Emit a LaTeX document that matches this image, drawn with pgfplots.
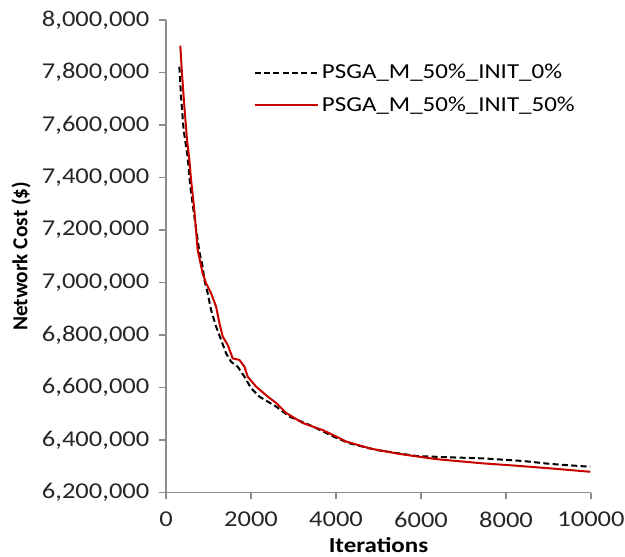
\documentclass[border=0pt]{standalone}
\usepackage{fontspec}
\setmainfont{Carlito}
\newfontfamily\wide[FakeStretch=1.17]{Carlito}
\usepackage{pgfplots}
\pgfplotsset{compat=1.18}

\definecolor{xlred}{RGB}{200,0,0}
\definecolor{axgrey}{RGB}{140,140,140}

\begin{document}
\begin{tikzpicture}
\begin{axis}[
  scale only axis, width=318.75pt, height=354.4pt,
  xmin=0, xmax=10000, ymin=6200000, ymax=8000000,
  xtick={0,2000,...,10000}, ytick={6200000,6400000,...,8000000},
  axis lines*=left, axis line style={axgrey, line width=0.8pt},
  tick style={axgrey, line width=0.8pt}, tick align=outside,
  major tick length=5pt,
  scaled x ticks=false, scaled y ticks=false,
  /pgf/number format/assume math mode=true,
  yticklabel style={xshift=-4pt, /pgf/number format/.cd, fixed, 1000 sep={,}},
  xticklabel style={yshift=-6pt, /pgf/number format/.cd, fixed, 1000 sep={}},
  tick label style={font=\wide\fontsize{17}{20}\selectfont, text=black!85},
  xlabel={\textbf{Iterations}}, ylabel={\textbf{Network Cost (\$)}},
  xlabel style={font=\wide\fontsize{16}{19}\selectfont, at={(rel axis cs:0.5,-0.111)}, anchor=center},
  ylabel style={font=\fontsize{16}{19}\selectfont, at={(rel axis cs:-0.341,0.5)}, anchor=center},
  legend style={draw=none, fill=none, at={(rel axis cs:0.196,0.918)}, anchor=north west,
    font=\wide\fontsize{16}{19}\selectfont, row sep=8pt},
  legend cell align=left,
  legend image code/.code={\draw[#1] (0cm,0cm) -- (1.68cm,0cm);},
  clip=false,
]
% PSGA_M_50%_INIT_0%
\addplot[black, line width=1.5pt, dash pattern=on 4.5pt off 2.5pt] coordinates {
  (314,7822000) (354,7708000) (415,7581000) (509,7479000) (573,7365000)
  (667,7251000) (785,7117000) (863,7060000) (903,7010000) (981,6959000)
  (1061,6895000) (1179,6832000) (1297,6781000) (1415,6730000) (1533,6698000)
  (1688,6679000) (1846,6641000) (2004,6597000) (2200,6565000) (2594,6527000)
  (2907,6489000) (3379,6457000) (4009,6408000) (4322,6387000) (4952,6362000)
  (5895,6339000) (6680,6334000) (7466,6330000) (8409,6320000) (9038,6309000)
  (9982,6298000)};
\addlegendentry{PSGA\_M\_50\%\_INIT\_0\%}
% PSGA_M_50%_INIT_50%
\addplot[xlred, line width=1.5pt] coordinates {
  (337,7902000) (368,7816000) (432,7670000) (495,7543000) (550,7467000)
  (590,7391000) (667,7276000) (745,7124000) (863,7035000) (943,6997000)
  (1061,6959000) (1179,6908000) (1257,6845000) (1335,6794000) (1453,6762000)
  (1570,6711000) (1728,6705000) (1846,6679000) (1924,6641000) (2122,6603000)
  (2396,6565000) (2594,6541000) (2830,6503000) (3214,6465000) (3686,6438000)
  (4009,6413000) (4244,6394000) (4794,6368000) (5423,6349000) (5659,6343000)
  (6367,6327000) (7458,6311000) (8253,6302000) (9038,6292000) (9982,6279000)};
\addlegendentry{PSGA\_M\_50\%\_INIT\_50\%}
\coordinate (bl) at (rel axis cs:-0.3906,-0.1344);
\coordinate (tr) at (rel axis cs:1.08,1.0423);
\end{axis}
\pgfresetboundingbox
\path[use as bounding box] (bl) rectangle (tr);
\end{tikzpicture}
\end{document}
